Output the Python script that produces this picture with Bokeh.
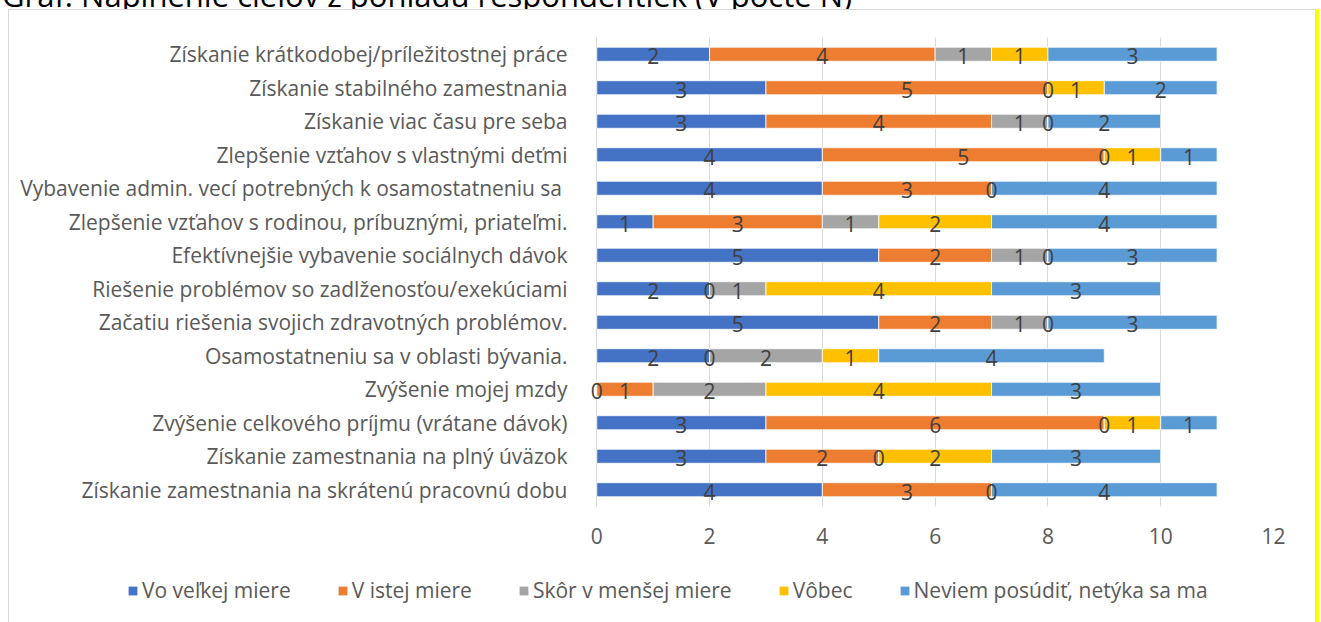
from bokeh.plotting import figure
from bokeh.layouts import column
from bokeh.models import (FactorRange, Range1d, Legend, LegendItem, Div,
                          ColumnDataSource, FixedTicker)
from bokeh.core.properties import value
from bokeh.embed import file_html
from bokeh.resources import INLINE

title_text = "Graf: Naplnenie cieľov z pohľadu respondentiek (V počte N)"

categories = [
    "Získanie krátkodobej/príležitostnej práce",
    "Získanie stabilného zamestnania",
    "Získanie viac času pre seba",
    "Zlepšenie vzťahov s vlastnými deťmi",
    "Vybavenie admin. vecí potrebných k osamostatneniu sa ",
    "Zlepšenie vzťahov s rodinou, príbuznými, priateľmi.",
    "Efektívnejšie vybavenie sociálnych dávok",
    "Riešenie problémov so zadlženosťou/exekúciami",
    "Začatiu riešenia svojich zdravotných problémov.",
    "Osamostatneniu sa v oblasti bývania.",
    "Zvýšenie mojej mzdy",
    "Zvýšenie celkového príjmu (vrátane dávok)",
    "Získanie zamestnania na plný úväzok",
    "Získanie zamestnania na skrátenú pracovnú dobu",
]
vo_velkej_miere = [2, 3, 3, 4, 4, 1, 5, 2, 5, 2, 0, 3, 3, 4]
v_istej_miere = [4, 5, 4, 5, 3, 3, 2, 0, 2, 0, 1, 6, 2, 3]
skor_v_mensej_miere = [1, 0, 1, 0, 0, 1, 1, 1, 1, 2, 2, 0, 0, 0]
vobec = [1, 1, 0, 1, None, 2, 0, 4, 0, 1, 4, 1, 2, None]
neviem = [3, 2, 2, 1, 4, 4, 3, 3, 3, 4, 3, 1, 3, 4]

series_names = ["Vo veľkej miere", "V istej miere", "Skôr v menšej miere",
                "Vôbec", "Neviem posúdiť, netýka sa ma"]
series_values = [vo_velkej_miere, v_istej_miere, skor_v_mensej_miere, vobec, neviem]
colors = ["#4472C4", "#ED7D31", "#A5A5A5", "#FFC000", "#5B9BD5"]
x_ticks = [0, 2, 4, 6, 8, 10, 12]

FONT = "Open Sans"
TXT = "#595959"
FS = "21px"

keys = ["s%d" % i for i in range(len(series_names))]
data = {"cat": categories}
for k, vals in zip(keys, series_values):
    data[k] = [0 if v is None else v for v in vals]
src = ColumnDataSource(data)

W = 1306
p = figure(width=W, height=550, output_backend="svg", toolbar_location=None,
           y_range=FactorRange(factors=list(reversed(categories))),
           x_range=Range1d(-0.2, 12),
           min_border_left=576, min_border_right=42,
           min_border_top=27, min_border_bottom=54, margin=0)
p.frame_align = False
p.outline_line_color = None
p.background_fill_color = "white"
p.border_fill_color = "white"

rs = p.hbar_stack(keys, y="cat", height=0.42, source=src, color=colors,
                  line_color="white", line_width=0.8)

# data labels (centred in each segment, computed from the values)
lx, ly, lt = [], [], []
for i, cat in enumerate(categories):
    cum = 0
    for vals in series_values:
        v = vals[i]
        if v is None:
            continue
        lx.append(cum + v / 2)
        ly.append(cat)
        lt.append(str(v))
        cum += v
p.text(x=lx, y=ly, text=lt, text_align="center", text_baseline="middle",
       text_font=value(FONT), text_font_size=FS, text_color="#404040",
       y_offset=2)

p.xaxis.ticker = FixedTicker(ticks=x_ticks)
p.xaxis.axis_line_color = None
p.xaxis.major_tick_line_color = None
p.xaxis.minor_tick_line_color = None
p.xaxis.major_label_standoff = 15
p.xaxis.major_label_text_font = FONT
p.xaxis.major_label_text_font_size = FS
p.xaxis.major_label_text_color = TXT

p.yaxis.axis_line_color = None
p.yaxis.major_tick_line_color = None
p.yaxis.minor_tick_line_color = None
p.yaxis.major_label_standoff = 12
p.yaxis.major_label_text_font = FONT
p.yaxis.major_label_text_font_size = FS
p.yaxis.major_label_text_color = TXT

p.xgrid.grid_line_color = "#d9d9d9"
p.ygrid.grid_line_color = None

# legend strip below the plot (its bars have zero height, only the legend shows)
lf = figure(width=W, height=64, output_backend="svg", toolbar_location=None,
            x_range=Range1d(0, 12),
            y_range=FactorRange(factors=list(reversed(categories))),
            min_border=0, margin=0)
lf.frame_align = False
lf.axis.visible = False
lf.grid.visible = False
lf.outline_line_color = None
lf.background_fill_color = "white"
lf.border_fill_color = "white"
lrs = lf.hbar_stack(keys, y="cat", height=0, source=src, color=colors,
                    line_alpha=0)
items = [LegendItem(label=n, renderers=[r]) for n, r in zip(series_names, lrs)]
legend = Legend(items=items, orientation="horizontal", location=(118, 20),
                label_text_font=FONT, label_text_font_size=FS,
                label_text_color=TXT, glyph_width=11, glyph_height=11,
                label_standoff=4, spacing=46, padding=0, margin=0,
                border_line_color=None, background_fill_alpha=0)
lf.add_layout(legend, "center")

inner = column(p, lf, spacing=0, margin=(0, 0, 0, 6),
               styles={"border": "1px solid #d9d9d9",
                       "box-shadow": "3px 0 0 #ffff00",
                       "background-color": "white"})

title_div = Div(text=title_text, width=1000, height=29, margin=0,
                styles={"font-family": FONT, "font-size": "31px",
                        "line-height": "30px", "white-space": "nowrap",
                        "overflow": "hidden", "color": "#000000"})

layout = column(title_div, inner, spacing=0, margin=(-20, 0, 0, 2))

open("out.html", "w").write(file_html(layout, INLINE))
